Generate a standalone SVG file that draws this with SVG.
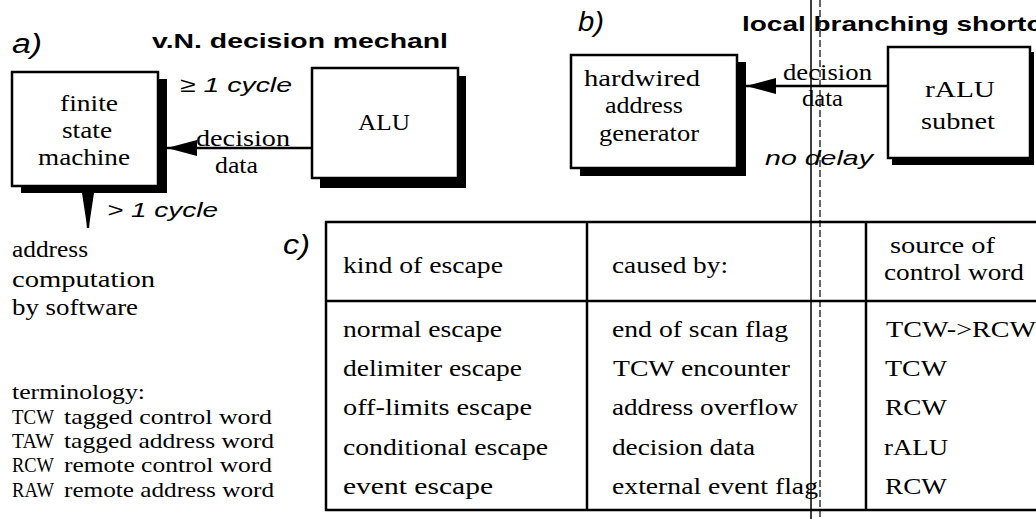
<svg xmlns="http://www.w3.org/2000/svg" width="1036" height="519" viewBox="0 0 1036 519">
  <style>
    .serif { font-family: "Liberation Serif", "Times New Roman", serif; fill: #000; }
    .sans { font-family: "Liberation Sans", Arial, sans-serif; fill: #000; }
    .head { font-weight: bold; font-size: 21px; }
    .ital { font-style: italic; font-size: 21px; }
    .panel { font-style: italic; font-size: 27px; }
    .lbl { font-size: 24px; }
    .term { font-size: 21px; }
    .box { fill: #fff; stroke: #000; stroke-width: 2.5; }
    .shadow { fill: #000; }
    .wire { stroke: #000; stroke-width: 2.5; fill: none; }
    .rule { stroke: #000; stroke-width: 2.5; fill: none; }
  </style>
  <defs>
    <marker id="head" markerUnits="userSpaceOnUse" markerWidth="32" markerHeight="18" refX="30" refY="8" orient="auto">
      <path d="M0,0 L30,8 L0,16 Z" fill="#000"/>
    </marker>
  </defs>
  <rect width="1036" height="519" fill="#fff"/>

  <!-- fold lines running down the page -->
  <line x1="811" y1="0" x2="811" y2="519" stroke="#000" stroke-width="1.5"/>
  <line x1="820" y1="0" x2="820" y2="519" stroke="#000" stroke-width="1.2" stroke-dasharray="7,3"/>

  <!-- panel titles -->
  <text class="sans panel" x="12" y="53" textLength="30" lengthAdjust="spacingAndGlyphs">a)</text>
  <text class="sans head" x="152" y="48" textLength="296" lengthAdjust="spacingAndGlyphs">v.N. decision mechanl</text>
  <text class="sans panel" x="578" y="31" textLength="26" lengthAdjust="spacingAndGlyphs">b)</text>
  <text class="sans head" x="742" y="31" textLength="300" lengthAdjust="spacingAndGlyphs">local branching shortc</text>
  <text class="sans panel" x="283" y="254" textLength="27" lengthAdjust="spacingAndGlyphs">c)</text>

  <!-- a) finite state machine -->
  <g id="fsm">
    <rect class="shadow" x="21" y="79" width="146" height="114"/>
    <rect class="box" x="12" y="72" width="146" height="114"/>
    <text class="serif lbl" x="89" y="111" text-anchor="middle" textLength="58" lengthAdjust="spacingAndGlyphs">finite</text>
    <text class="serif lbl" x="87" y="138" text-anchor="middle" textLength="50" lengthAdjust="spacingAndGlyphs">state</text>
    <text class="serif lbl" x="84" y="165" text-anchor="middle" textLength="92" lengthAdjust="spacingAndGlyphs">machine</text>
  </g>

  <!-- a) ALU -->
  <g id="alu">
    <rect class="shadow" x="320" y="76" width="146" height="112"/>
    <rect class="box" x="312" y="68" width="146" height="110"/>
    <text class="serif lbl" x="384" y="130" text-anchor="middle" textLength="52" lengthAdjust="spacingAndGlyphs">ALU</text>
  </g>

  <!-- a) side labels -->
  <g id="a-labels">
    <text class="sans ital" x="180" y="92" textLength="112" lengthAdjust="spacingAndGlyphs">≥ 1 cycle</text>
    <text class="sans ital" x="107" y="217" textLength="111" lengthAdjust="spacingAndGlyphs">&gt; 1 cycle</text>
    <text class="serif lbl" x="12" y="257" textLength="76" lengthAdjust="spacingAndGlyphs">address</text>
    <text class="serif lbl" x="12" y="287" textLength="143" lengthAdjust="spacingAndGlyphs">computation</text>
    <text class="serif lbl" x="12" y="315" textLength="126" lengthAdjust="spacingAndGlyphs">by software</text>
  </g>

  <!-- b) hardwired address generator -->
  <g id="hag">
    <rect class="shadow" x="580" y="62" width="166" height="114"/>
    <rect class="box" x="571" y="55" width="166" height="113"/>
    <text class="serif lbl" x="642" y="86" text-anchor="middle" textLength="116" lengthAdjust="spacingAndGlyphs">hardwired</text>
    <text class="serif lbl" x="644" y="113" text-anchor="middle" textLength="78" lengthAdjust="spacingAndGlyphs">address</text>
    <text class="serif lbl" x="649" y="141" text-anchor="middle" textLength="100" lengthAdjust="spacingAndGlyphs">generator</text>
  </g>

  <!-- b) rALU subnet -->
  <g id="ralu">
    <rect class="shadow" x="892" y="52" width="142" height="113"/>
    <rect class="box" x="888" y="47" width="142" height="111"/>
    <text class="serif lbl" x="960" y="97" text-anchor="middle" textLength="70" lengthAdjust="spacingAndGlyphs">rALU</text>
    <text class="serif lbl" x="958" y="129" text-anchor="middle" textLength="74" lengthAdjust="spacingAndGlyphs">subnet</text>
  </g>

  <!-- connectors -->
  <g id="connectors">
    <line class="wire" x1="312" y1="148" x2="167" y2="148" marker-end="url(#head)"/>
    <text class="serif lbl" x="196" y="146" textLength="94" lengthAdjust="spacingAndGlyphs">decision</text>
    <text class="serif lbl" x="215" y="173" textLength="43" lengthAdjust="spacingAndGlyphs">data</text>

    <line class="wire" x1="88" y1="193" x2="88" y2="228"/>
    <polygon points="82,193 94,193 89,226 87,226" fill="#000"/>

    <line class="wire" x1="888" y1="86" x2="746" y2="86" marker-end="url(#head)"/>
    <text class="serif lbl" x="783" y="80" textLength="89" lengthAdjust="spacingAndGlyphs">decision</text>
    <text class="serif lbl" x="802" y="106" textLength="41" lengthAdjust="spacingAndGlyphs">data</text>
    <text class="sans ital" x="765" y="165" textLength="108" lengthAdjust="spacingAndGlyphs">no delay</text>
  </g>

  <!-- terminology key -->
  <g id="terminology">
    <text class="serif term" x="12" y="399" textLength="133" lengthAdjust="spacingAndGlyphs">terminology:</text>
    <text class="serif term" x="12" y="424" textLength="42" lengthAdjust="spacingAndGlyphs">TCW</text>
    <text class="serif term" x="64" y="424" textLength="208" lengthAdjust="spacingAndGlyphs">tagged control word</text>
    <text class="serif term" x="12" y="448" textLength="42" lengthAdjust="spacingAndGlyphs">TAW</text>
    <text class="serif term" x="64" y="448" textLength="210" lengthAdjust="spacingAndGlyphs">tagged address word</text>
    <text class="serif term" x="12" y="472" textLength="42" lengthAdjust="spacingAndGlyphs">RCW</text>
    <text class="serif term" x="64" y="472" textLength="208" lengthAdjust="spacingAndGlyphs">remote control word</text>
    <text class="serif term" x="12" y="497" textLength="42" lengthAdjust="spacingAndGlyphs">RAW</text>
    <text class="serif term" x="64" y="497" textLength="210" lengthAdjust="spacingAndGlyphs">remote address word</text>
  </g>

  <!-- c) escape table -->
  <g id="escape-table">
    <polyline class="rule" points="1040,222 326,222 326,510 1040,510"/>
    <line class="rule" x1="326" y1="301" x2="1040" y2="301"/>
    <line class="rule" x1="587" y1="222" x2="587" y2="510"/>
    <line class="rule" x1="866" y1="222" x2="866" y2="510"/>

    <text class="serif lbl" x="343" y="273" textLength="160" lengthAdjust="spacingAndGlyphs">kind of escape</text>
    <text class="serif lbl" x="612" y="273" textLength="116" lengthAdjust="spacingAndGlyphs">caused by:</text>
    <text class="serif lbl" x="890" y="253" textLength="105" lengthAdjust="spacingAndGlyphs">source of</text>
    <text class="serif lbl" x="884" y="280" textLength="140" lengthAdjust="spacingAndGlyphs">control word</text>

    <text class="serif lbl" x="343" y="337" textLength="159" lengthAdjust="spacingAndGlyphs">normal escape</text>
    <text class="serif lbl" x="343" y="376" textLength="179" lengthAdjust="spacingAndGlyphs">delimiter escape</text>
    <text class="serif lbl" x="343" y="415" textLength="189" lengthAdjust="spacingAndGlyphs">off-limits escape</text>
    <text class="serif lbl" x="343" y="455" textLength="205" lengthAdjust="spacingAndGlyphs">conditional escape</text>
    <text class="serif lbl" x="343" y="494" textLength="150" lengthAdjust="spacingAndGlyphs">event escape</text>

    <text class="serif lbl" x="612" y="337" textLength="176" lengthAdjust="spacingAndGlyphs">end of scan flag</text>
    <text class="serif lbl" x="613" y="376" textLength="177" lengthAdjust="spacingAndGlyphs">TCW encounter</text>
    <text class="serif lbl" x="612" y="415" textLength="186" lengthAdjust="spacingAndGlyphs">address overflow</text>
    <text class="serif lbl" x="612" y="455" textLength="143" lengthAdjust="spacingAndGlyphs">decision data</text>
    <text class="serif lbl" x="612" y="494" textLength="206" lengthAdjust="spacingAndGlyphs">external event flag</text>

    <text class="serif lbl" x="886" y="337" textLength="150" lengthAdjust="spacingAndGlyphs">TCW-&gt;RCW</text>
    <text class="serif lbl" x="885" y="376" textLength="62" lengthAdjust="spacingAndGlyphs">TCW</text>
    <text class="serif lbl" x="885" y="415" textLength="62" lengthAdjust="spacingAndGlyphs">RCW</text>
    <text class="serif lbl" x="884" y="455" textLength="64" lengthAdjust="spacingAndGlyphs">rALU</text>
    <text class="serif lbl" x="885" y="494" textLength="62" lengthAdjust="spacingAndGlyphs">RCW</text>
  </g>
</svg>
